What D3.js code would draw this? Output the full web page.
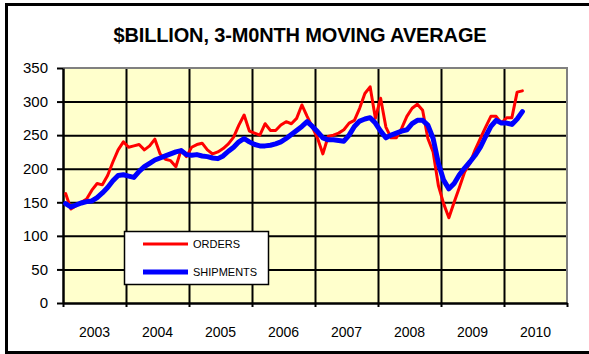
<!DOCTYPE html>
<html>
<head>
<meta charset="utf-8">
<script src="https://cdn.jsdelivr.net/npm/d3@7"></script>
<style>
  body { margin: 0; background: #fff; }
  svg { display: block; }
  text { font-family: Arial, "Liberation Sans", sans-serif; fill: #000; }
</style>
</head>
<body>
<svg id="chart" width="589" height="354"></svg>
<script>
// Monthly 3-month moving averages, $ billion, Jan 2003 – Apr 2010
const years = [2003, 2004, 2005, 2006, 2007, 2008, 2009, 2010];
const yTicks = [0, 50, 100, 150, 200, 250, 300, 350];
const seriesNames = ["ORDERS", "SHIPMENTS"];

const orders = [
  163, 140, 145, 150, 155, 168, 178, 176, 190, 210, 228, 240, // 2003
  232, 234, 236, 228, 234, 244, 222, 214, 212, 203, 228, 218, // 2004
  232, 236, 238, 228, 222, 225, 230, 237, 247, 265, 280, 256, // 2005
  253, 250, 267, 257, 257, 265, 270, 267, 275, 295, 278, 262, // 2006
  245, 222, 248, 250, 253, 258, 268, 272, 290, 312, 322, 275, // 2007
  305, 262, 246, 246, 260, 278, 290, 296, 287, 245, 225, 175, // 2008
  148, 127, 150, 172, 195, 208, 228, 245, 262, 278, 278, 268, // 2009
  276, 276, 314, 316                                          // 2010
];

const shipments = [
  148, 143, 146, 149, 151, 152, 157, 164, 172, 182, 190, 191, // 2003
  189, 187, 196, 203, 208, 213, 216, 219, 222, 225, 227, 221, // 2004
  220, 221, 219, 218, 216, 215, 219, 226, 232, 240, 245, 240, // 2005
  236, 234, 234, 235, 237, 240, 245, 251, 257, 263, 270, 263, // 2006
  255, 246, 243, 243, 242, 241, 250, 263, 271, 274, 276, 268, // 2007
  256, 246, 250, 253, 256, 258, 267, 272, 272, 265, 245, 208, // 2008
  183, 170, 178, 191, 201, 210, 220, 232, 248, 263, 272, 268, // 2009
  268, 266, 274, 285                                          // 2010
];

const colors = ["#ff0000", "#0000ff"];
const widths = [3, 5];

const svg = d3.select("#chart");
const W = 589, H = 354;
const plot = { left: 63, right: 567, top: 68, bottom: 303 };

// Chart area frame
svg.append("rect")
  .attr("x", 6.5).attr("y", 4.5)
  .attr("width", W + 10).attr("height", 348)
  .attr("fill", "#fff").attr("stroke", "#000").attr("stroke-width", 3);

// Title
svg.append("text")
  .attr("x", 300).attr("y", 41.5)
  .attr("text-anchor", "middle")
  .attr("font-size", 20).attr("font-weight", "bold")
  .attr("letter-spacing", -0.15)
  .text("$BILLION, 3-M0NTH MOVING AVERAGE");

// Scales
const x = d3.scaleLinear().domain([0, years.length * 12]).range([plot.left, plot.right]);
const yearBand = d3.scaleBand().domain(years).range([plot.left, plot.right]);
const y = d3.scaleLinear().domain([0, 350]).range([plot.bottom, plot.top]);

// Plot background
svg.append("rect")
  .attr("x", plot.left).attr("y", plot.top)
  .attr("width", plot.right - plot.left).attr("height", plot.bottom - plot.top)
  .attr("fill", "#ffffcc");

// Horizontal gridlines
svg.append("g")
  .attr("transform", `translate(${plot.left},0)`)
  .call(d3.axisLeft(y).tickValues(yTicks.slice(1, -1)).tickSize(-(plot.right - plot.left)).tickFormat(""))
  .call(g => g.select(".domain").remove())
  .call(g => g.selectAll("line").attr("stroke", "#000").attr("stroke-width", 2));

// Vertical gridlines at year boundaries
const boundaries = d3.range(1, years.length).map(k => k * 12);
svg.append("g")
  .attr("transform", `translate(0,${plot.bottom})`)
  .call(d3.axisBottom(x).tickValues(boundaries).tickSize(-(plot.bottom - plot.top)).tickFormat(""))
  .call(g => g.select(".domain").remove())
  .call(g => g.selectAll("line").attr("stroke", "#000").attr("stroke-width", 2));

// Plot border (top / right)
svg.append("path")
  .attr("d", `M${plot.left},${plot.top}H${plot.right}V${plot.bottom}`)
  .attr("fill", "none").attr("stroke", "#808080").attr("stroke-width", 2);

// Y axis
svg.append("g")
  .attr("transform", `translate(${plot.left},0)`)
  .call(d3.axisLeft(y).tickValues(yTicks).tickSize(6).tickPadding(9).tickSizeOuter(0))
  .call(g => g.select(".domain").attr("stroke", "#000").attr("stroke-width", 2.5))
  .call(g => g.selectAll("line").attr("stroke", "#000").attr("stroke-width", 2))
  .call(g => g.selectAll("text").attr("font-size", 15).attr("font-family", "Arial, 'Liberation Sans', sans-serif"));

// X axis: tick marks at year boundaries, labels centred in each year
svg.append("g")
  .attr("transform", `translate(0,${plot.bottom})`)
  .call(d3.axisBottom(x).tickValues(d3.range(0, years.length + 1).map(k => k * 12)).tickSize(4).tickFormat("").tickSizeOuter(0))
  .call(g => g.select(".domain").attr("stroke", "#000").attr("stroke-width", 2.5))
  .call(g => g.selectAll("line").attr("stroke", "#000").attr("stroke-width", 2));

svg.append("g")
  .attr("transform", `translate(0,${plot.bottom})`)
  .call(d3.axisBottom(yearBand).tickSize(0).tickPadding(24))
  .call(g => g.select(".domain").remove())
  .call(g => g.selectAll("text").attr("font-size", 14).attr("font-family", "Arial, 'Liberation Sans', sans-serif"));

// Series lines
const line = d3.line()
  .x((d, i) => x(i + 0.5))
  .y(d => y(d));

[orders, shipments].forEach((s, k) => {
  svg.append("path")
    .datum(s)
    .attr("d", line)
    .attr("fill", "none")
    .attr("stroke", colors[k])
    .attr("stroke-width", widths[k])
    .attr("stroke-linejoin", "round")
    .attr("stroke-linecap", "round");
});

// Legend
const legend = svg.append("g");
legend.append("rect")
  .attr("x", 124.5).attr("y", 231.5)
  .attr("width", 144).attr("height", 53)
  .attr("fill", "#fff").attr("stroke", "#000").attr("stroke-width", 1.5);

seriesNames.forEach((name, k) => {
  const ly = 244 + k * 28;
  legend.append("line")
    .attr("x1", 143).attr("x2", 188)
    .attr("y1", ly).attr("y2", ly)
    .attr("stroke", colors[k]).attr("stroke-width", widths[k]);
  legend.append("text")
    .attr("x", 193).attr("y", ly + 4)
    .attr("font-size", 11)
    .text(name);
});
</script>
</body>
</html>
